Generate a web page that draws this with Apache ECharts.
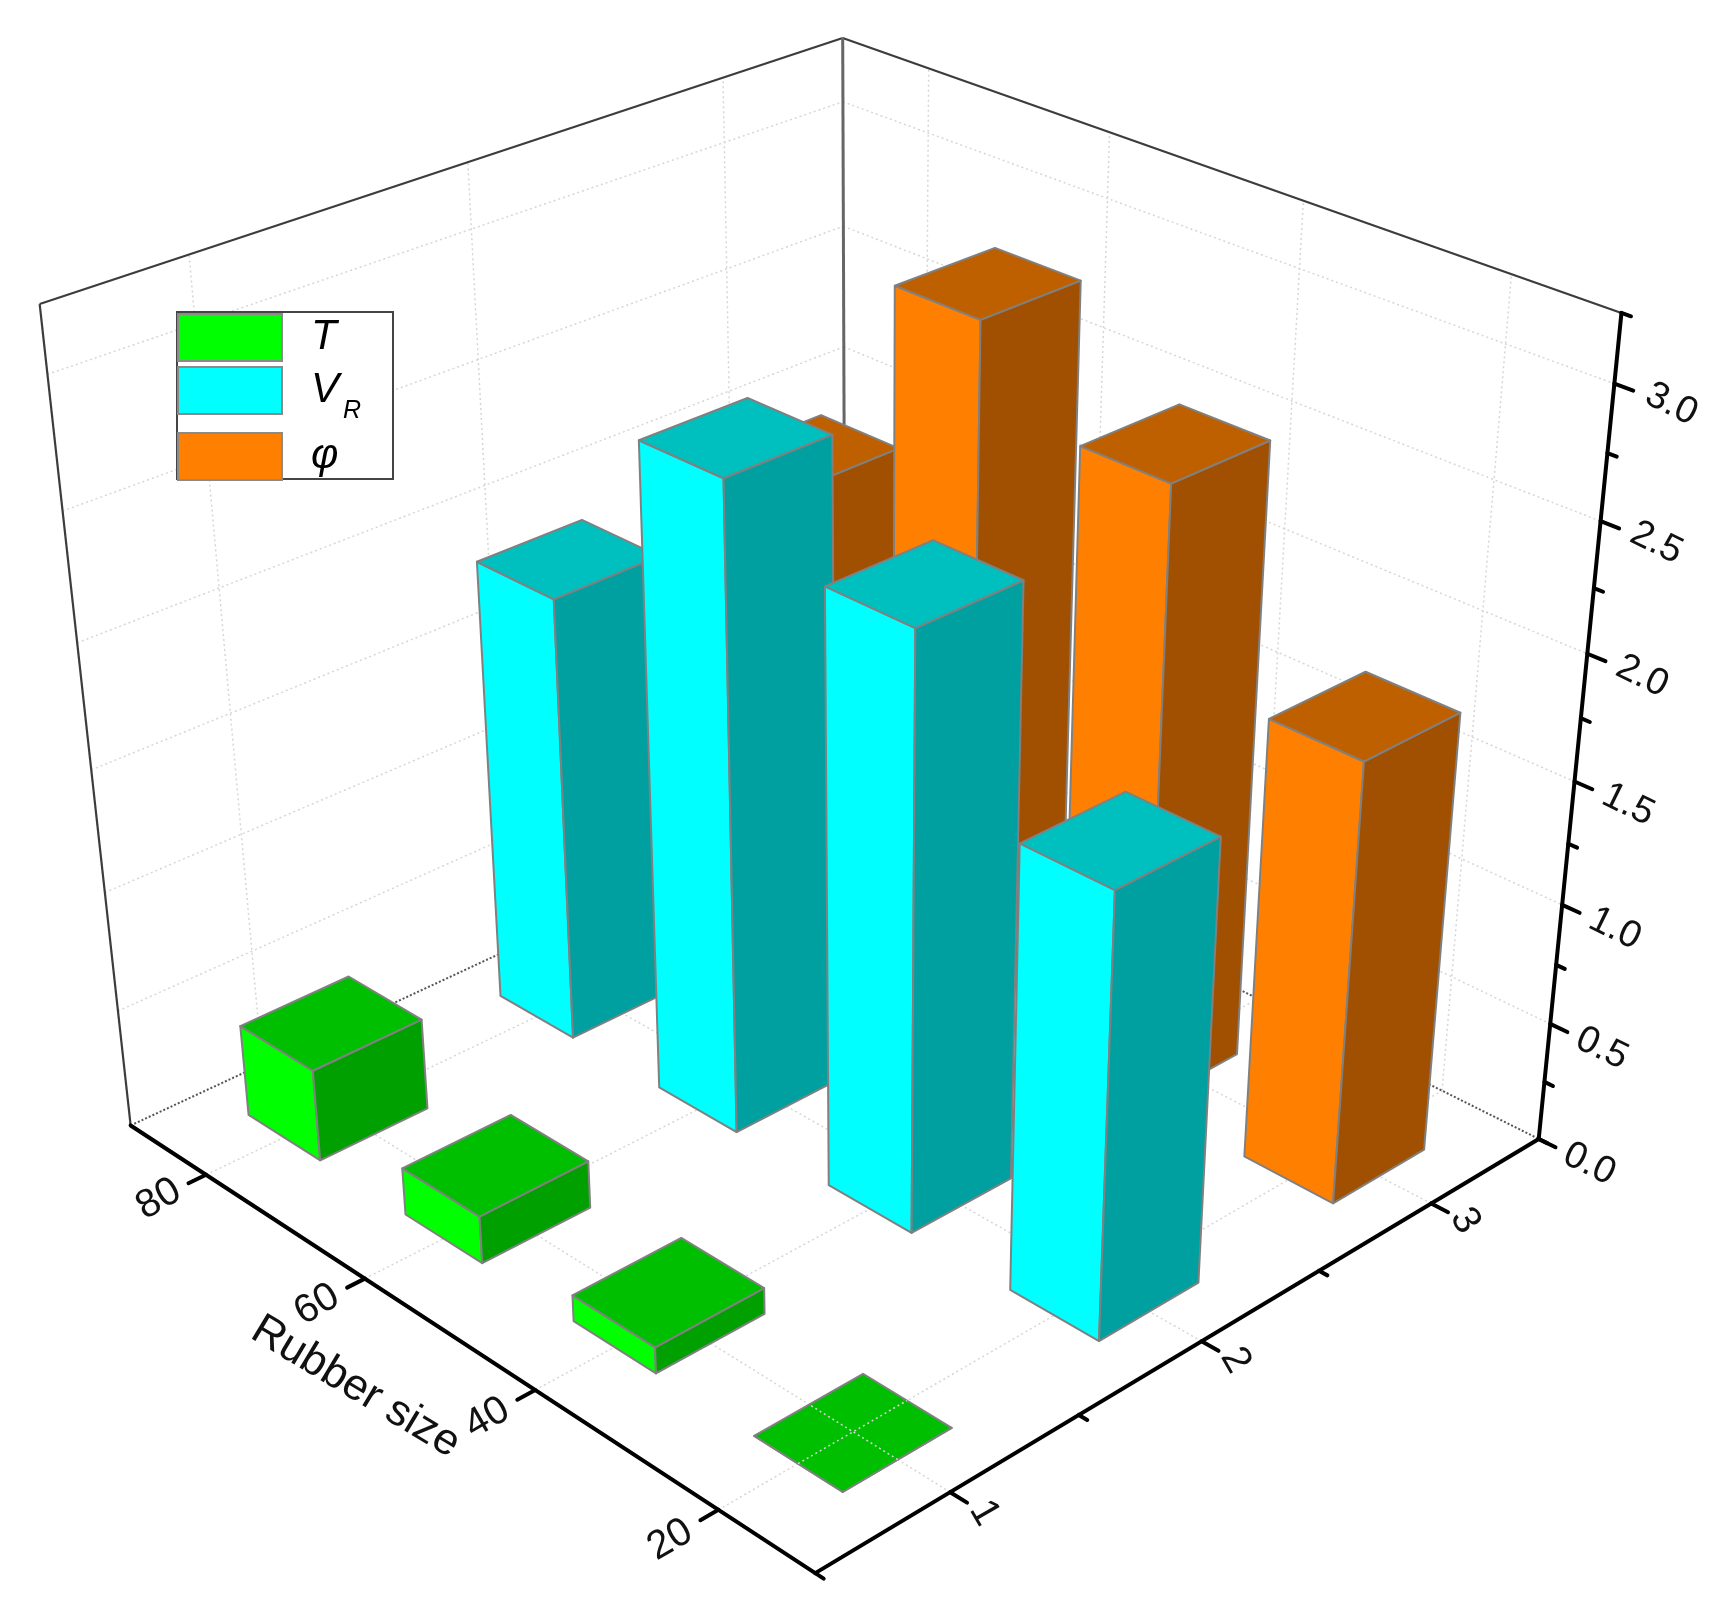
<!DOCTYPE html>
<html>
<head>
<meta charset="utf-8">
<title>Rubber size 3D bars</title>
<script src="https://cdn.jsdelivr.net/npm/echarts@6/dist/echarts.min.js"></script>
<style>
  html, body { margin: 0; background: #fff; }
  #main { width: 1724px; height: 1609px; }
</style>
</head>
<body>
<div id="main"></div>
<script>
// chart values
const rubberSizes = [80, 60, 40, 20];
const tValues = [0.39, 0.2, 0.11, 0];
const vrValues = [1.86, 2.64, 2.41, 1.8];
const phiValues = [1.9, 2.85, 2.53, 1.81];
const seriesCategory = [1, 2, 3];

// axis ticks
const rubberTicks = [20, 40, 60, 80];
const categoryMajor = [1, 2, 3];
const categoryMinor = [0.5, 1.5, 2.5, 3.5];
const valueMajor = [0, 0.5, 1, 1.5, 2, 2.5, 3];
const valueMinor = [0.25, 0.75, 1.25, 1.75, 2.25, 2.75, 3.25];

const rubberMin = 10, rubberMax = 90;
const catMin = 0.5, catMax = 3.5;
const valueMax = 3.25;

// bar footprint half sizes, in axis units
const halfRubber = 4.65;
const halfCat = 0.207;

const FONT = '"Liberation Sans", Arial, sans-serif';

// camera: where known axis points land on the page, [rubber, cat, value, px, py]
// the perspective matrix is fitted to these
const cameraPoints = [
  [10, 0.5, 0, 816, 1572], [90, 0.5, 0, 131, 1126], [10, 3.5, 0, 1537, 1139],
  [80, 0.5, 0, 207, 1175], [60, 0.5, 0, 363, 1278], [40, 0.5, 0, 533, 1390], [20, 0.5, 0, 717, 1510],
  [10, 1, 0, 950, 1492], [10, 1.5, 0, 1080, 1417], [10, 2, 0, 1202, 1340], [10, 2.5, 0, 1322, 1270], [10, 3, 0, 1432, 1203],
  [10, 3.5, 0.5, 1550, 1024], [10, 3.5, 1, 1562, 905], [10, 3.5, 2, 1587, 655],
  [10, 3.5, 2.5, 1601, 522], [10, 3.5, 3, 1615, 384], [10, 3.5, 3.25, 1620, 312],
  [90, 3.5, 2, 843, 347], [90, 3.5, 2.5, 843, 227], [90, 3.5, 3, 843, 102], [90, 3.5, 3.25, 843.5, 36],
  [90, 0.5, 2.5, 65, 512], [90, 0.5, 3, 48, 374], [90, 0.5, 3.25, 38, 304]
];

function normal3(r, c, v) {
  return [(r - rubberMin) / (rubberMax - rubberMin), (c - catMin) / (catMax - catMin), v / valueMax];
}

// least squares for the 11 matrix terms (normal equations + gauss)
function fitCamera(points) {
  const n = 11;
  const A = [];
  for (let i = 0; i < n; i++) A.push(new Array(n + 1).fill(0));
  const addRow = function (row, rhs) {
    for (let i = 0; i < n; i++) {
      for (let j = 0; j < n; j++) A[i][j] += row[i] * row[j];
      A[i][n] += row[i] * rhs;
    }
  };
  points.forEach(function (p) {
    const u = normal3(p[0], p[1], p[2]);
    const x = p[3] / 1000, y = p[4] / 1000;
    addRow([u[0], u[1], u[2], 1, 0, 0, 0, 0, -x * u[0], -x * u[1], -x * u[2]], x);
    addRow([0, 0, 0, 0, u[0], u[1], u[2], 1, -y * u[0], -y * u[1], -y * u[2]], y);
  });
  for (let i = 0; i < n; i++) {
    let best = i;
    for (let k = i + 1; k < n; k++) if (Math.abs(A[k][i]) > Math.abs(A[best][i])) best = k;
    const tmp = A[i]; A[i] = A[best]; A[best] = tmp;
    for (let k = 0; k < n; k++) {
      if (k === i) continue;
      const f = A[k][i] / A[i][i];
      for (let j = i; j <= n; j++) A[k][j] -= f * A[i][j];
    }
  }
  return A.map(function (row, i) { return row[n] / row[i]; });
}

const cam = fitCamera(cameraPoints);

function project(r, c, v) {
  const u = normal3(r, c, v);
  const w = cam[8] * u[0] + cam[9] * u[1] + cam[10] * u[2] + 1;
  return [
    1000 * (cam[0] * u[0] + cam[1] * u[1] + cam[2] * u[2] + cam[3]) / w,
    1000 * (cam[4] * u[0] + cam[5] * u[1] + cam[6] * u[2] + cam[7]) / w
  ];
}

// line segments of walls, floor and axes: [r1, c1, v1, r2, c2, v2, kind]
const gridSegments = [];
rubberTicks.forEach(function (r) {
  gridSegments.push([r, catMin, 0, r, catMax, 0, 0]);
  gridSegments.push([r, catMax, 0, r, catMax, valueMax, 0]);
});
categoryMajor.forEach(function (c) {
  gridSegments.push([rubberMin, c, 0, rubberMax, c, 0, 0]);
  gridSegments.push([rubberMax, c, 0, rubberMax, c, valueMax, 0]);
});
valueMajor.slice(1).forEach(function (v) {
  gridSegments.push([rubberMax, catMin, v, rubberMax, catMax, v, 0]);
  gridSegments.push([rubberMax, catMax, v, rubberMin, catMax, v, 0]);
});
// far floor edges
gridSegments.push([rubberMax, catMin, 0, rubberMax, catMax, 0, 1]);
gridSegments.push([rubberMax, catMax, 0, rubberMin, catMax, 0, 1]);
// wall rim
gridSegments.push([rubberMax, catMin, 0, rubberMax, catMin, valueMax, 2]);
gridSegments.push([rubberMax, catMin, valueMax, rubberMax, catMax, valueMax, 2]);
gridSegments.push([rubberMax, catMax, valueMax, rubberMin, catMax, valueMax, 2]);
gridSegments.push([rubberMax, catMax, 0, rubberMax, catMax, valueMax, 3]);

const axisSegments = [];
axisSegments.push([rubberMax, catMin, 0, rubberMin, catMin, 0, 4]);
axisSegments.push([rubberMin, catMin, 0, rubberMin, catMax, 0, 4]);
axisSegments.push([rubberMin, catMax, 0, rubberMin, catMax, valueMax, 4]);
rubberTicks.forEach(function (r) { axisSegments.push([r, catMin, 0, r, catMin - 0.065, 0, 4]); });
categoryMajor.forEach(function (c) { axisSegments.push([rubberMin, c, 0, rubberMin - 1.7, c, 0, 4]); });
categoryMinor.forEach(function (c) { axisSegments.push([rubberMin, c, 0, rubberMin - 0.85, c, 0, 4]); });
valueMajor.forEach(function (v) { axisSegments.push([rubberMin, catMax, v, rubberMin - 1.7, catMax, v, 4]); });
valueMinor.forEach(function (v) { axisSegments.push([rubberMin, catMax, v, rubberMin - 0.85, catMax, v, 4]); });

const lineKinds = [
  { stroke: '#d6d6d6', lineWidth: 1.5, lineDash: [2, 3] },
  { stroke: '#555555', lineWidth: 2, lineDash: [2, 2] },
  { stroke: '#3c3c3c', lineWidth: 2.2 },
  { stroke: '#666666', lineWidth: 3 },
  { stroke: '#000000', lineWidth: 4, lineCap: 'round' }
];

function renderSegment(params, api) {
  const a = api.coord(project(api.value(0), api.value(1), api.value(2)));
  const b = api.coord(project(api.value(3), api.value(4), api.value(5)));
  return {
    type: 'line',
    shape: { x1: a[0], y1: a[1], x2: b[0], y2: b[1] },
    style: lineKinds[api.value(6)]
  };
}

// axis text: [text, r, c, v, angle, size]
const axisTexts = [];
rubberTicks.forEach(function (r) {
  axisTexts.push([String(r), r - 0.2, catMin - 0.18, 0, 30, 40]);
});
categoryMajor.forEach(function (c) {
  axisTexts.push([String(c), rubberMin - 3.4, c, 0, -60, 40]);
});
valueMajor.forEach(function (v) {
  axisTexts.push([v.toFixed(1), rubberMin - 5.1, catMax, v, -26, 38]);
});
axisTexts.push(['Rubber size', 49.5, catMin - 0.35, 0, -31, 44]);

function renderText(params, api) {
  const t = axisTexts[params.dataIndex];
  const p = api.coord(project(t[1], t[2], t[3]));
  return {
    type: 'text',
    x: p[0],
    y: p[1],
    rotation: t[4] * Math.PI / 180,
    style: {
      text: t[0],
      font: t[5] + 'px ' + FONT,
      fill: '#111111',
      align: 'center',
      verticalAlign: 'middle'
    }
  };
}

const barEdge = { stroke: '#808080', lineWidth: 2, lineJoin: 'round' };

function barRenderer(front, top, side) {
  return function (params, api) {
    const r = api.value(0), c = api.value(1), v = api.value(2);
    const r0 = r - halfRubber, r1 = r + halfRubber;
    const c0 = c - halfCat, c1 = c + halfCat;
    const pt = function (a, b, h) { return api.coord(project(a, b, h)); };
    const face = function (points, fill) {
      return { type: 'polygon', shape: { points: points }, style: Object.assign({ fill: fill }, barEdge) };
    };
    const children = [
      face([pt(r0, c0, 0), pt(r1, c0, 0), pt(r1, c0, v), pt(r0, c0, v)], front),
      face([pt(r0, c0, 0), pt(r0, c1, 0), pt(r0, c1, v), pt(r0, c0, v)], side),
      face([pt(r0, c0, v), pt(r1, c0, v), pt(r1, c1, v), pt(r0, c1, v)], top)
    ];
    // a bar of height 0 lies in the floor, so the floor grid shows on it
    if (v === 0) {
      const a = pt(r, c0, 0), b = pt(r, c1, 0), d = pt(r0, c, 0), e = pt(r1, c, 0);
      children.push({ type: 'line', shape: { x1: a[0], y1: a[1], x2: b[0], y2: b[1] }, style: lineKinds[0] });
      children.push({ type: 'line', shape: { x1: d[0], y1: d[1], x2: e[0], y2: e[1] }, style: lineKinds[0] });
    }
    return { type: 'group', children: children };
  };
}

function barSeries(name, catValue, values, colors) {
  return {
    name: name,
    type: 'custom',
    coordinateSystem: 'cartesian2d',
    silent: true,
    itemStyle: { color: colors[0] },
    data: rubberSizes.map(function (r, i) { return [r, catValue, values[i]]; }),
    renderItem: barRenderer(colors[0], colors[1], colors[2])
  };
}

function legendFor(name, top) {
  return {
    data: [{ name: name, icon: 'rect' }],
    left: 177,
    top: top,
    padding: 0,
    selectedMode: false,
    itemWidth: 104,
    itemHeight: 47,
    itemStyle: { borderColor: '#8a8a8a', borderWidth: 2 },
    formatter: function (n) {
      return n === 'VR' ? '{i|V}{s|R}' : '{i|' + n + '}';
    },
    textStyle: {
      rich: {
        i: { fontFamily: FONT, fontStyle: 'italic', fontSize: 42, color: '#000', padding: [0, 0, 0, 24] },
        s: { fontFamily: FONT, fontStyle: 'italic', fontSize: 25, color: '#000', padding: [42, 0, 0, 4] }
      }
    }
  };
}

const myChart = echarts.init(document.getElementById('main'));

myChart.setOption({
  animation: false,
  backgroundColor: '#ffffff',
  grid: { left: 0, right: 0, top: 0, bottom: 0 },
  xAxis: { type: 'value', min: 0, max: 1724, show: false },
  yAxis: { type: 'value', min: 0, max: 1609, inverse: true, show: false },
  legend: [legendFor('T', 313), legendFor('VR', 366), legendFor('φ', 432)],
  graphic: [{
    type: 'rect',
    z: 3,
    shape: { x: 177, y: 312, width: 216, height: 167 },
    style: { fill: '#ffffff', stroke: '#444444', lineWidth: 2 },
    silent: true
  }],
  series: [
    { type: 'custom', silent: true, data: gridSegments, renderItem: renderSegment },
    barSeries('φ', seriesCategory[2], phiValues, ['#ff8000', '#bf6000', '#a05000']),
    barSeries('VR', seriesCategory[1], vrValues, ['#00ffff', '#00bfbf', '#00a0a0']),
    barSeries('T', seriesCategory[0], tValues, ['#00ff00', '#00bf00', '#00a000']),
    { type: 'custom', silent: true, data: axisSegments, renderItem: renderSegment },
    { type: 'custom', silent: true, data: axisTexts.map(function (t, i) { return [i, i]; }), renderItem: renderText }
  ]
});
</script>
</body>
</html>
